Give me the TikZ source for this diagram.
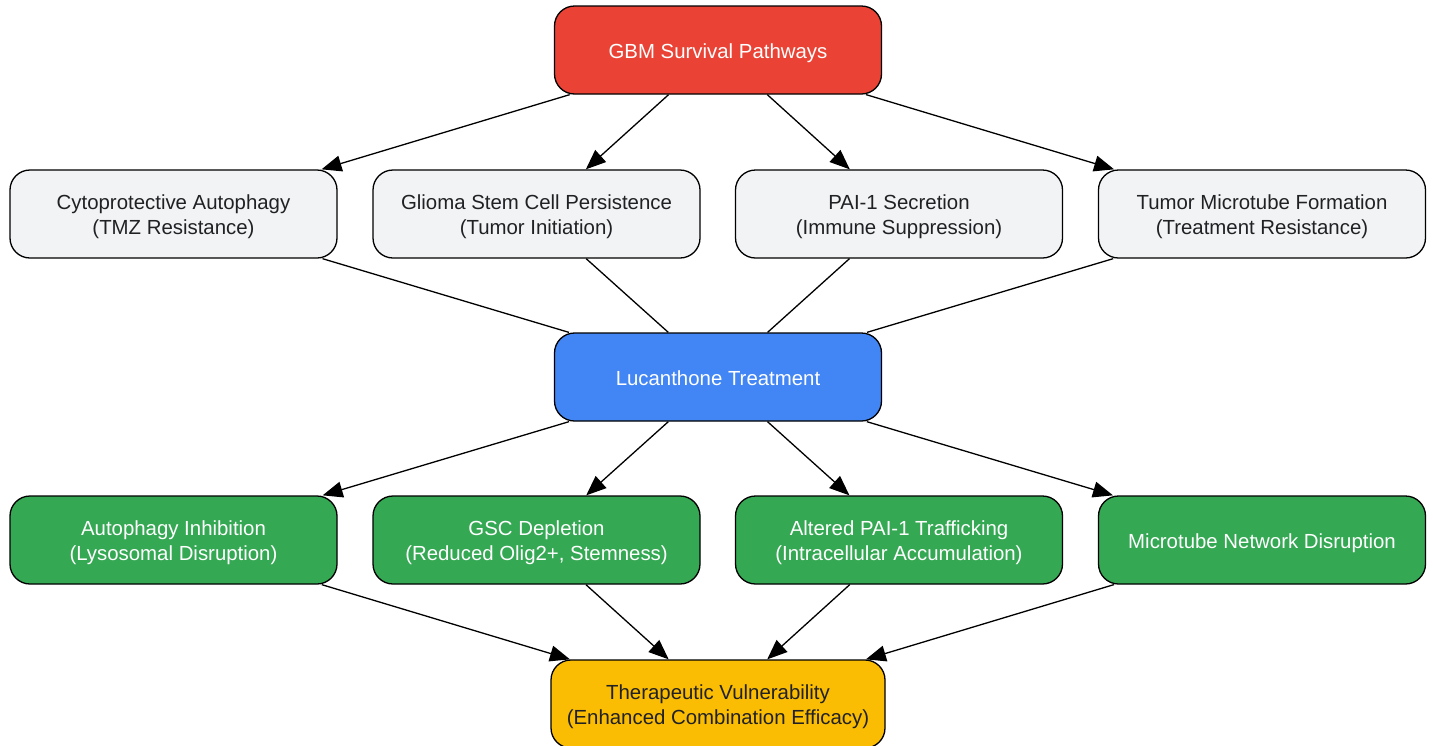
\documentclass[tikz,border=0pt]{standalone}
\usepackage{fontspec}
\setmainfont{Liberation Sans}
\usetikzlibrary{arrows.meta}
\definecolor{cred}{HTML}{EA4335}
\definecolor{cgrey}{HTML}{F1F3F4}
\definecolor{cblue}{HTML}{4285F4}
\definecolor{cgreen}{HTML}{34A853}
\definecolor{cyellow}{HTML}{FBBC04}
\definecolor{ctext}{HTML}{202124}
\tikzset{
  box/.style={draw=black, line width=1.3pt, rounded corners=20pt, minimum width=327pt, minimum height=88pt, align=center, font=\fontsize{20.4pt}{25pt}\selectfont, inner sep=0pt},
  redbox/.style={box, fill=cred, text=white},
  greybox/.style={box, fill=cgrey, text=ctext},
  bluebox/.style={box, fill=cblue, text=white},
  greenbox/.style={box, fill=cgreen, text=white},
  yellowbox/.style={box, fill=cyellow, text=ctext, minimum width=334pt},
  arr/.style={line width=1.3pt, -{Triangle[length=20pt,width=16pt]}},
  plain/.style={line width=1.3pt}
}
\newcommand{\lbl}[1]{\raisebox{-3pt}[\height][\depth]{\begin{tabular}{@{}c@{}}#1\end{tabular}}}
\begin{document}
\begin{tikzpicture}[x=1pt,y=1pt]
\useasboundingbox (0,0) rectangle (1433,-745);
\node[redbox] (gbm) at (718,-50) {\lbl{GBM Survival Pathways}};
\node[greybox] (a1) at (173.5,-214) {\lbl{Cytoprotective Autophagy\\(TMZ Resistance)}};
\node[greybox] (a2) at (536.5,-214) {\lbl{Glioma Stem Cell Persistence\\(Tumor Initiation)}};
\node[greybox] (a3) at (899,-214) {\lbl{PAI-1 Secretion\\(Immune Suppression)}};
\node[greybox] (a4) at (1262,-214) {\lbl{Tumor Microtube Formation\\(Treatment Resistance)}};
\node[bluebox] (luc) at (718,-377) {\lbl{Lucanthone Treatment}};
\node[greenbox] (b1) at (173.5,-540) {\lbl{Autophagy Inhibition\\(Lysosomal Disruption)}};
\node[greenbox] (b2) at (536.5,-540) {\lbl{GSC Depletion\\(Reduced Olig2+, Stemness)}};
\node[greenbox] (b3) at (899,-540) {\lbl{Altered PAI-1 Trafficking\\(Intracellular Accumulation)}};
\node[greenbox] (b4) at (1262,-540) {\lbl{Microtube Network Disruption}};
\node[yellowbox] (tv) at (718,-704) {\lbl{Therapeutic Vulnerability\\(Enhanced Combination Efficacy)}};
\foreach \n in {a1,a2,a3,a4} {
  \draw[arr] (gbm) -- (\n);
  \draw[plain] (\n) -- (luc);
}
\foreach \n in {b1,b2,b3,b4} {
  \draw[arr] (luc) -- (\n);
  \draw[arr] (\n) -- (tv);
}
\end{tikzpicture}
\end{document}
